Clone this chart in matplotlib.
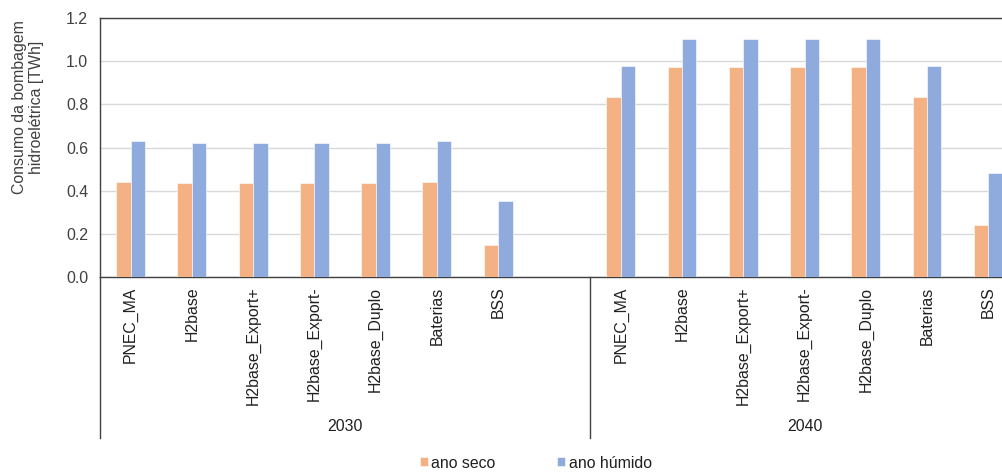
import numpy as np
import matplotlib.pyplot as plt

plt.rcParams['font.family'] = ['Liberation Sans', 'DejaVu Sans']

# data
cenarios = ['PNEC_MA', 'H2base', 'H2base_Export+', 'H2base_Export-', 'H2base_Duplo', 'Baterias', 'BSS']
anos = ['2030', '2040']
seco_2030 = [0.44, 0.435, 0.435, 0.435, 0.435, 0.44, 0.15]
humido_2030 = [0.632, 0.623, 0.623, 0.623, 0.623, 0.632, 0.35]
seco_2040 = [0.835, 0.974, 0.974, 0.974, 0.974, 0.835, 0.24]
humido_2040 = [0.978, 1.104, 1.104, 1.104, 1.104, 0.978, 0.48]

c_seco = '#F4B183'
c_humido = '#8FAADC'
fs = 11.4

fig = plt.figure(figsize=(10.03, 4.72), dpi=100)
ax = fig.add_axes([100 / 1003, 1 - 277 / 472, 1 - 100 / 1003, 259 / 472])

n = len(cenarios)
# 2030 group has an empty slot after BSS
x30 = np.arange(n)
x40 = np.arange(n) + n + 1
x = np.concatenate([x30, x40])
seco = seco_2030 + seco_2040
humido = humido_2030 + humido_2040

w = 0.236
ax.bar(x - w / 2, seco, w, color=c_seco, edgecolor='white', linewidth=0.4, label='ano seco', zorder=3)
ax.bar(x + w / 2, humido, w, color=c_humido, edgecolor='white', linewidth=0.4, label='ano húmido', zorder=3)

ax.set_xlim(-0.5, 14.24)
ax.set_ylim(0, 1.2)
ax.set_yticks(np.arange(0, 1.21, 0.2))
ax.set_yticklabels([f'{v:.1f}' for v in np.arange(0, 1.21, 0.2)])
ax.yaxis.grid(True, color='#d9d9d9', linewidth=1, zorder=0)
ax.tick_params(axis='y', length=0, pad=8.5, labelsize=fs, labelcolor='#404040')

ax.set_xticks(x)
ax.set_xticklabels(cenarios + cenarios, rotation=90, va='top', ha='center')
ax.tick_params(axis='x', length=0, pad=7, labelsize=fs, labelcolor='#202020')

for s in ['top', 'left', 'bottom']:
    ax.spines[s].set_color('#404040')
    ax.spines[s].set_linewidth(1)
ax.spines['right'].set_visible(False)

# group separators below the axis
for xs in [-0.5, n + 0.5]:
    ax.plot([xs, xs], [0, -0.622], transform=ax.get_xaxis_transform(), color='#404040', lw=1, clip_on=False)
ax.text((x30[0] + n) / 2, -0.579, anos[0], transform=ax.get_xaxis_transform(), ha='center', va='center', fontsize=fs, color='#202020')
ax.text((x40[0] + x40[-1]) / 2, -0.579, anos[1], transform=ax.get_xaxis_transform(), ha='center', va='center', fontsize=fs, color='#202020')

fig.text(28 / 1003, 1 - 107 / 472, 'Consumo da bombagem\nhidroelétrica [TWh]', rotation=90, ha='center', va='center',
         fontsize=fs, color='#404040', linespacing=1.15)

fig.legend(loc='center', bbox_to_anchor=(536 / 1003, 1 - 463 / 472), ncol=2, frameon=False, fontsize=fs,
           handlelength=0.5, handleheight=0.5, handletextpad=0.25, columnspacing=3.9, labelcolor='#202020')

fig.savefig('out.png', dpi=100)
